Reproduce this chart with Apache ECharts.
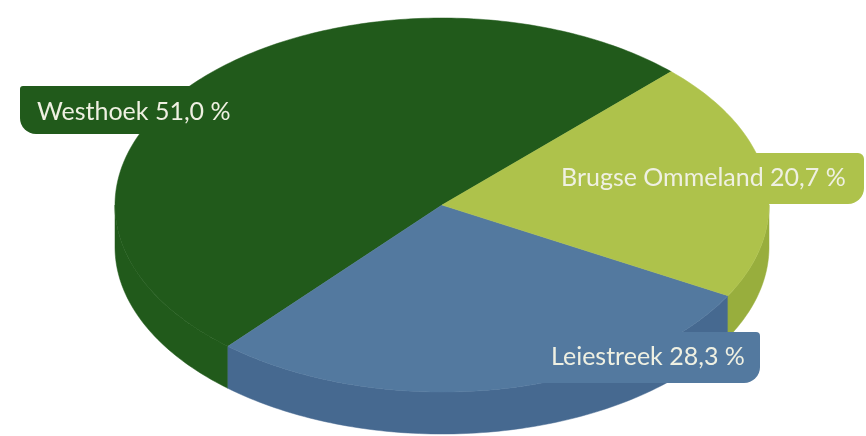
<!DOCTYPE html>
<html>
<head>
<meta charset="utf-8">
<script src="https://cdn.jsdelivr.net/npm/echarts@6/dist/echarts.min.js"></script>
<style>
html,body{margin:0;padding:0;background:#fff;}
#chart{width:866px;height:436px;}
</style>
</head>
<body>
<div id="chart"></div>
<script>
// ---- data ----
const categories = ['Westhoek', 'Leiestreek', 'Brugse Ommeland'];
const shares = [51.0, 28.3, 20.7];

// ---- styling / layout (not data) ----
const faceColors = ['#215a1b', '#53799f', '#aec24b'];
const sideColors = ['#215a1b', '#466990', '#98ae3d'];
const START = 45.5;           // degrees, counter-clockwise
const CX = 442, CY = 205, RX = 327, RY = 187, DEPTH = 42;
const labelBoxes = [
  {x0: 20, y0: 86, x1: 260, y1: 134, r: [3, 0, 0, 16], tx: 37, ty: 112},
  {x0: 530, y0: 332, x1: 760, y1: 383, r: [0, 4, 16, 0], tx: 551, ty: 357},
  {x0: 545, y0: 153, x1: 864, y1: 204, r: [0, 6, 16, 0], tx: 561, ty: 178}
];

const total = shares.reduce((a, b) => a + b, 0);
function fmt(v) { return v.toFixed(1).replace('.', ',') + ' %'; }

function pt(deg, dy) {
  const t = deg * Math.PI / 180;
  return [CX + RX * Math.cos(t), CY - RY * Math.sin(t) + (dy || 0)];
}
function arc(a1, a2, dy) {
  const pts = [];
  const n = Math.max(2, Math.ceil(Math.abs(a2 - a1)));
  for (let i = 0; i <= n; i++) pts.push(pt(a1 + (a2 - a1) * i / n, dy));
  return pts;
}

function renderItem(params, api) {
  const i = params.dataIndex;
  let before = 0;
  for (let k = 0; k < i; k++) before += shares[k];
  const a1 = START + before / total * 360;
  const a2 = a1 + api.value(0) / total * 360;
  const children = [];
  [[180, 360], [540, 720]].forEach(([s, e]) => {
    const lo = Math.max(a1, s), hi = Math.min(a2, e);
    if (hi > lo) {
      const top = arc(lo, hi, 0);
      const bot = arc(hi, lo, DEPTH);
      children.push({type: 'polygon', z2: 1, shape: {points: top.concat(bot)},
        style: {fill: sideColors[i], stroke: sideColors[i], lineWidth: 0.5}});
    }
  });
  children.push({type: 'polygon', z2: 2, shape: {points: [[CX, CY]].concat(arc(a1, a2, 0))},
    style: {fill: faceColors[i], stroke: faceColors[i], lineWidth: 0.5}});
  const b = labelBoxes[i];
  children.push({type: 'rect', z2: 3, shape: {x: b.x0, y: b.y0, width: b.x1 - b.x0, height: b.y1 - b.y0, r: b.r},
    style: {fill: faceColors[i]}});
  children.push({type: 'text', z2: 4, x: b.tx, y: b.ty,
    style: {text: categories[i] + ' ' + fmt(api.value(0)), fill: '#eff0e2',
      font: '400 25px Lato', align: 'left', verticalAlign: 'middle'}});
  return {type: 'group', children: children};
}

const chart = echarts.init(document.getElementById('chart'), null, {renderer: 'canvas'});
chart.setOption({
  animation: false,
  backgroundColor: '#ffffff',
  series: [{
    type: 'custom',
    coordinateSystem: 'none',
    renderItem: renderItem,
    data: shares.map((v, i) => ({name: categories[i], value: [v]}))
  }]
});
</script>
</body>
</html>
